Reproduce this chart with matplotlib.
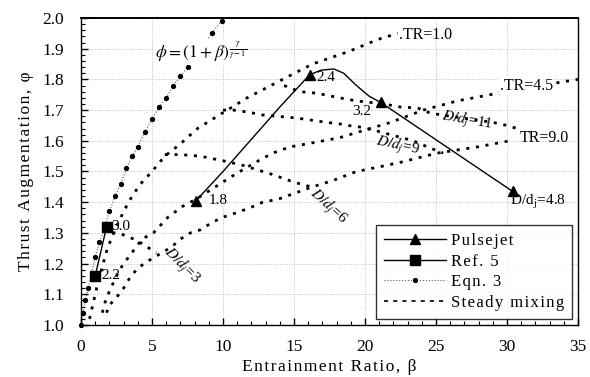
import numpy as np
import matplotlib.pyplot as plt
from matplotlib.ticker import MultipleLocator

plt.rcParams['font.family'] = ['Liberation Serif', 'DejaVu Serif']
plt.rcParams['mathtext.fontset'] = 'stix'

# -------------------------
# Data
# -------------------------

# pulsejet measured points and their D/dj labels
pj_beta = [8.1, 16.1, 21.1, 30.4]
pj_phi = [1.405, 1.815, 1.725, 1.435]
pj_labels = ["1.8", "2.4", "3.2", r"D/d$_\mathrm{j}$=4.8"]

# trace of the smooth pulsejet curve
pj_trace_beta = [8.1, 10.0, 12.0, 14.0, 16.1, 16.9, 17.8, 18.5,
                 19.4, 20.3, 21.1, 30.4]
pj_trace_phi = [1.405, 1.50, 1.605, 1.71, 1.815, 1.83, 1.834, 1.82,
                1.78, 1.745, 1.725, 1.435]

# Ref. 5
ref_beta = [1.8, 1.0]
ref_phi = [1.32, 1.16]
ref_labels = ["3.0", "2.2"]

# Eqn. 3
eq_beta = [0, 0.15, 0.3, 0.5, 0.75, 1.0, 1.3, 1.6, 2.0, 2.4, 2.8, 3.2, 3.6,
           4.0, 4.5, 5.0, 5.5, 6.0, 6.5, 7.0, 7.5, 8.0, 8.6, 9.2, 9.9]
eq_phi = [1.0, 1.04, 1.08, 1.12, 1.17, 1.22, 1.27, 1.31, 1.37, 1.42, 1.46,
          1.51, 1.55, 1.58, 1.63, 1.67, 1.71, 1.74, 1.78, 1.81, 1.84, 1.87,
          1.91, 1.95, 1.99]

# steady mixing, constant TR
tr1_beta = [0.6, 0.9, 1.2, 1.5, 1.8, 2.2, 2.6, 3.0, 3.6, 4.2, 5.0, 5.9, 7.0,
            8.2, 9.6, 11.7, 14.2, 16.3, 18.8, 20.9, 22.3]
tr1_phi = [1.02, 1.08, 1.14, 1.19, 1.24, 1.29, 1.33, 1.37, 1.42, 1.46, 1.50,
           1.55, 1.59, 1.64, 1.68, 1.74, 1.80, 1.85, 1.89, 1.93, 1.95]

tr45_beta = [1.5, 1.7, 2.0, 2.3, 2.6, 3.0, 3.5, 3.9, 4.3, 5.1, 6.1, 7.1, 8.1,
             9.8, 11.0, 12.3, 13.5, 14.7, 16.5, 18.2, 20.0, 21.8, 24.1, 26.5,
             28.8, 31.0, 33.0, 35.0]
tr45_phi = [1.04, 1.075, 1.11, 1.14, 1.17, 1.20, 1.23, 1.255, 1.28, 1.30,
            1.35, 1.385, 1.41, 1.46, 1.495, 1.53, 1.56, 1.58, 1.595, 1.61,
            1.635, 1.66, 1.70, 1.73, 1.75, 1.77, 1.785, 1.80]

tr9_beta = [1.8, 2.0, 2.5, 3.0, 3.45, 4.0, 4.6, 5.5, 6.4, 7.0, 7.7, 8.4, 9.1,
            9.9, 10.6, 11.8, 12.8, 13.9, 15.1, 16.3, 17.7, 19.4, 21.0, 22.5,
            25.1, 27.9, 30.2]
tr9_phi = [1.04, 1.065, 1.09, 1.12, 1.155, 1.185, 1.205, 1.23, 1.255, 1.28,
           1.30, 1.31, 1.33, 1.35, 1.36, 1.38, 1.40, 1.41, 1.43, 1.45, 1.47,
           1.50, 1.515, 1.53, 1.56, 1.58, 1.60]

# steady mixing, constant D/dj
d3_beta = [2.2, 2.6, 3.2, 3.7, 4.3, 4.8, 5.3]
d3_phi = [1.30, 1.30, 1.29, 1.28, 1.265, 1.25, 1.235]

d6_beta = [5.9, 7.0, 8.4, 10.0, 11.4, 12.1, 13.5, 14.7, 15.4, 16.2]
d6_phi = [1.555, 1.555, 1.55, 1.535, 1.52, 1.51, 1.49, 1.47, 1.46, 1.45]

d9_beta = [10.0, 10.7, 11.7, 12.8, 13.8, 15.2, 16.1, 17.3, 18.2, 18.8, 19.6,
           20.6, 21.8, 23.4, 24.4, 25.5]
d9_phi = [1.70, 1.70, 1.694, 1.684, 1.68, 1.674, 1.668, 1.66, 1.655, 1.65,
          1.645, 1.635, 1.62, 1.60, 1.58, 1.56]

d11_beta = [14.3, 15.4, 16.6, 18.2, 19.4, 21.3, 22.5, 23.7, 24.6, 26.0, 27.5,
            29.0, 30.0, 30.7]
d11_phi = [1.78, 1.76, 1.755, 1.74, 1.73, 1.72, 1.71, 1.707, 1.69, 1.68,
           1.67, 1.66, 1.65, 1.64]


def spaced(s):
    # the scanned figure uses wide letter spacing on its text
    return "\u200a".join(s)


# -------------------------
# Figure
# -------------------------

fig = plt.figure(figsize=(5.9, 3.77), dpi=100)
ax = fig.add_axes([0.1373, 0.1379, 0.8424, 0.8144])

steady = dict(color="black", lw=2.0, linestyle=(0, (1.1, 2.4)))

ax.plot(tr1_beta, tr1_phi, **steady)
ax.plot(tr45_beta, tr45_phi, **steady)
ax.plot(tr9_beta, tr9_phi, **steady)
ax.plot(d3_beta, d3_phi, **steady)
ax.plot(d6_beta, d6_phi, **steady)
ax.plot(d9_beta, d9_phi, **steady)
ax.plot(d11_beta, d11_phi, **steady)

ax.plot(eq_beta, eq_phi, color="0.35", lw=0.8, linestyle=":",
        marker="o", markersize=2.8, markerfacecolor="black",
        markeredgecolor="black", clip_on=False)

ax.plot(pj_trace_beta, pj_trace_phi, color="black", lw=1.0)
ax.plot(pj_beta, pj_phi, linestyle="none", marker="^", markersize=7,
        color="black")

ax.plot(ref_beta, ref_phi, color="black", lw=1.0, marker="s",
        markersize=7)

# legend proxies
ax.plot([], [], color="black", lw=1.0, marker="^", markersize=7,
        label=spaced("Pulsejet"))
ax.plot([], [], color="black", lw=1.0, marker="s", markersize=7,
        label=spaced("Ref. 5"))
ax.plot([], [], color="0.35", lw=0.8, linestyle=":", marker="o",
        markersize=2.8, markerfacecolor="black", markeredgecolor="black",
        label=spaced("Eqn. 3"))
ax.plot([], [], color="black", lw=1.2, linestyle=(0, (2.5, 3)),
        label=spaced("Steady mixing"))

leg = ax.legend(loc="lower right", fontsize=12, frameon=True,
                fancybox=False, edgecolor="black", handlelength=3.7,
                borderpad=0.5, labelspacing=0.28, borderaxespad=0.35,
                handletextpad=0.3)
leg.get_frame().set_linewidth(1.0)

# -------------------------
# Annotations
# -------------------------

fs = 11
ax.text(pj_beta[0] + 0.9, pj_phi[0], pj_labels[0], fontsize=fs, va="center")
ax.text(pj_beta[1] + 0.5, pj_phi[1] - 0.01, pj_labels[1], fontsize=fs,
        va="center")
ax.text(pj_beta[2] - 2.0, pj_phi[2] - 0.03, pj_labels[2], fontsize=fs,
        va="center")
ax.text(pj_beta[3] - 0.2, pj_phi[3] - 0.035, pj_labels[3], fontsize=fs,
        va="center")

ax.text(ref_beta[0] + 0.35, ref_phi[0], ref_labels[0], fontsize=fs,
        va="center")
ax.text(ref_beta[1] + 0.4, ref_phi[1], ref_labels[1], fontsize=fs,
        va="center")

ax.text(22.4, 1.945, ".TR=1.0", fontsize=fs + 0.5, va="center")
ax.text(29.5, 1.78, ".TR=4.5", fontsize=fs + 0.5, va="center",
        bbox=dict(facecolor="white", edgecolor="none", pad=0.5))
ax.text(30.9, 1.61, "TR=9.0", fontsize=fs + 0.5, va="center")

ax.text(27.2, 1.665, r"$D/d_j$=11", fontsize=fs, rotation=-10,
        ha="center", va="center")
ax.text(22.3, 1.585, r"$D/d_j$=9", fontsize=fs, rotation=-12,
        ha="center", va="center")
ax.text(17.4, 1.385, r"$D/d_j$=6", fontsize=fs, rotation=-42,
        ha="center", va="center")
ax.text(7.1, 1.195, r"$D/d_j$=3", fontsize=fs, rotation=-45,
        ha="center", va="center")

ax.text(5.2, 1.89, r"$\phi=(1+\beta)^{\frac{\gamma}{\gamma-1}}$",
        fontsize=12.5, va="center",
        bbox=dict(facecolor="white", edgecolor="none", pad=0.5))

# -------------------------
# Axes
# -------------------------

ax.set_xlim(0, 35)
ax.set_ylim(1.0, 2.0)
ax.xaxis.set_major_locator(MultipleLocator(5))
ax.xaxis.set_minor_locator(MultipleLocator(1))
ax.yaxis.set_major_locator(MultipleLocator(0.1))
ax.yaxis.set_minor_locator(MultipleLocator(0.02))
ax.yaxis.set_major_formatter(plt.FormatStrFormatter("%.1f"))

ax.tick_params(which="both", direction="in", top=False, right=False,
               labelsize=12.5)
ax.tick_params(which="major", length=5, width=1.0)
ax.tick_params(which="minor", length=3, width=0.8)
ax.tick_params(axis="x", pad=10)
ax.tick_params(axis="y", pad=12)

ax.grid(True, which="major", color="0.7", linestyle=":", lw=0.6)
ax.set_axisbelow(True)

for side in ax.spines.values():
    side.set_linewidth(1.0)
ax.spines["top"].set_linewidth(1.4)

ax.set_xlabel(spaced("Entrainment Ratio, β"), fontsize=12.5, labelpad=3)
ax.set_ylabel(spaced("Thrust Augmentation, φ"), fontsize=12.5, labelpad=6)

fig.savefig("out.png", dpi=100)
